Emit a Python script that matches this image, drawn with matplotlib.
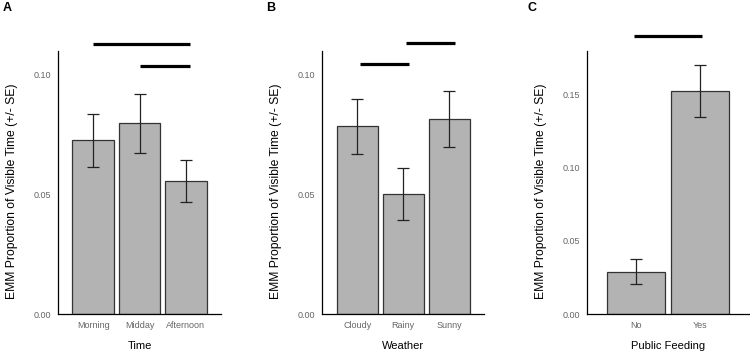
import matplotlib
matplotlib.use("Agg")
import matplotlib.pyplot as plt

plt.rcParams['font.family'] = ['Liberation Sans', 'DejaVu Sans']

# panel A - time of day
time_cats = ['Morning', 'Midday', 'Afternoon']
time_emm = [0.0724, 0.0795, 0.0553]
time_lo = [0.0611, 0.0671, 0.0465]
time_hi = [0.0835, 0.0915, 0.0640]
time_sig = [(0, 2.1, 0.1125), (1, 2.1, 0.1033)]

# panel B - weather
weather_cats = ['Cloudy', 'Rainy', 'Sunny']
weather_emm = [0.0783, 0.0500, 0.0814]
weather_lo = [0.0668, 0.0390, 0.0697]
weather_hi = [0.0897, 0.0607, 0.0929]
weather_sig = [(0.05, 1.13, 0.1040), (1.06, 2.13, 0.1128)]

# panel C - public feeding
feed_cats = ['No', 'Yes']
feed_emm = [0.0289, 0.1525]
feed_lo = [0.0203, 0.1343]
feed_hi = [0.0376, 0.1700]
feed_sig = [(-0.03, 1.02, 0.1899)]

W, H = 750, 355
fig = plt.figure(figsize=(W / 100, H / 100), dpi=100)


def panel(left, width, cats, emm, lo, hi, sig, ymax, yticks, xlabel, letter, letter_x):
    ax = fig.add_axes([left / W, 41 / H, width / W, 263 / H])
    x = list(range(len(cats)))
    ax.bar(x, emm, width=0.9, color='#b3b3b3', edgecolor='#333333', linewidth=0.9)
    err = [[m - l for m, l in zip(emm, lo)], [h - m for m, h in zip(emm, hi)]]
    ax.errorbar(x, emm, yerr=err, fmt='none', ecolor='#222222', elinewidth=0.9,
                capsize=4, capthick=0.9)
    for x0, x1, y in sig:
        ax.plot([x0, x1], [y, y], color='black', lw=2.3, clip_on=False,
                solid_capstyle='butt')
    ax.set_xlim(-0.76, len(cats) - 1 + 0.76)
    ax.set_ylim(0, ymax)
    ax.set_yticks(yticks)
    ax.set_yticklabels(['%.2f' % t for t in yticks])
    ax.set_xticks(x)
    ax.set_xticklabels(cats)
    ax.tick_params(length=0, labelsize=6.5, labelcolor='#666666', pad=5)
    for s in ['top', 'right']:
        ax.spines[s].set_visible(False)
    for s in ['left', 'bottom']:
        ax.spines[s].set_linewidth(0.9)
        ax.spines[s].set_color('black')
    ax.set_xlabel(xlabel, fontsize=8, labelpad=8)
    ax.set_ylabel('EMM Proportion of Visible Time (+/- SE)', fontsize=8.7)
    ax.yaxis.set_label_coords(-40 / width, (314 - 191.5) / 263)
    fig.text(letter_x / W, 1 - 8 / H, letter, fontsize=9, fontweight='bold',
             va='center', ha='left')
    return ax


panel(58, 163, time_cats, time_emm, time_lo, time_hi, time_sig, 0.1096,
      [0.0, 0.05, 0.10], 'Time', 'A', 3)
panel(322.3, 162, weather_cats, weather_emm, weather_lo, weather_hi, weather_sig, 0.1096,
      [0.0, 0.05, 0.10], 'Weather', 'B', 266)
panel(586.7, 162.6, feed_cats, feed_emm, feed_lo, feed_hi, feed_sig, 0.1796,
      [0.0, 0.05, 0.10, 0.15], 'Public Feeding', 'C', 528)

fig.savefig('out.png', dpi=100)
